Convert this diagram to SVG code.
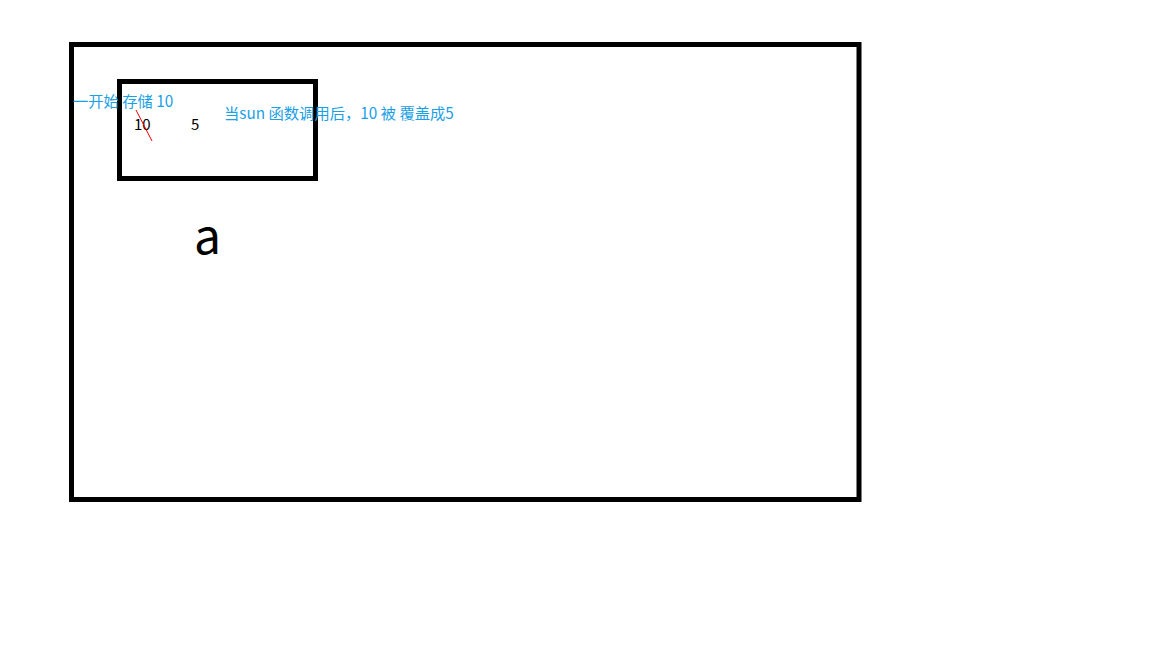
<svg xmlns="http://www.w3.org/2000/svg" width="1152" height="648" viewBox="0 0 1152 648">
<style>
.box{fill:none;stroke:#000;stroke-width:5}
.blue{fill:#1aa0e6;font-family:"Noto Sans CJK SC","Noto Sans",sans-serif;font-size:15.3px}
.blk{fill:#000;font-family:"Noto Sans CJK SC","Noto Sans",sans-serif;font-size:15px}
</style>
<rect width="1152" height="648" fill="#fff"/>
<g id="outer"><rect class="box" x="71.5" y="44.5" width="787.5" height="455"/></g>
<g id="inner"><rect class="box" x="119.5" y="81.5" width="196" height="97"/></g>
<g id="labels">
<text class="blue" x="73" y="107">一开始 存储 10</text>
<text class="blk" x="134" y="130">10</text>
<text class="blk" x="191" y="130">5</text>
<text class="blue" x="224" y="119">当sun 函数调用后，10 被 覆盖成5</text>
<text x="194" y="254" font-family="Noto Sans CJK SC, Noto Sans, sans-serif" font-size="48" fill="#000">a</text>
</g>
<g id="connectors"><line x1="136" y1="110" x2="152" y2="141" stroke="#e00" stroke-width="1"/></g>
</svg>
